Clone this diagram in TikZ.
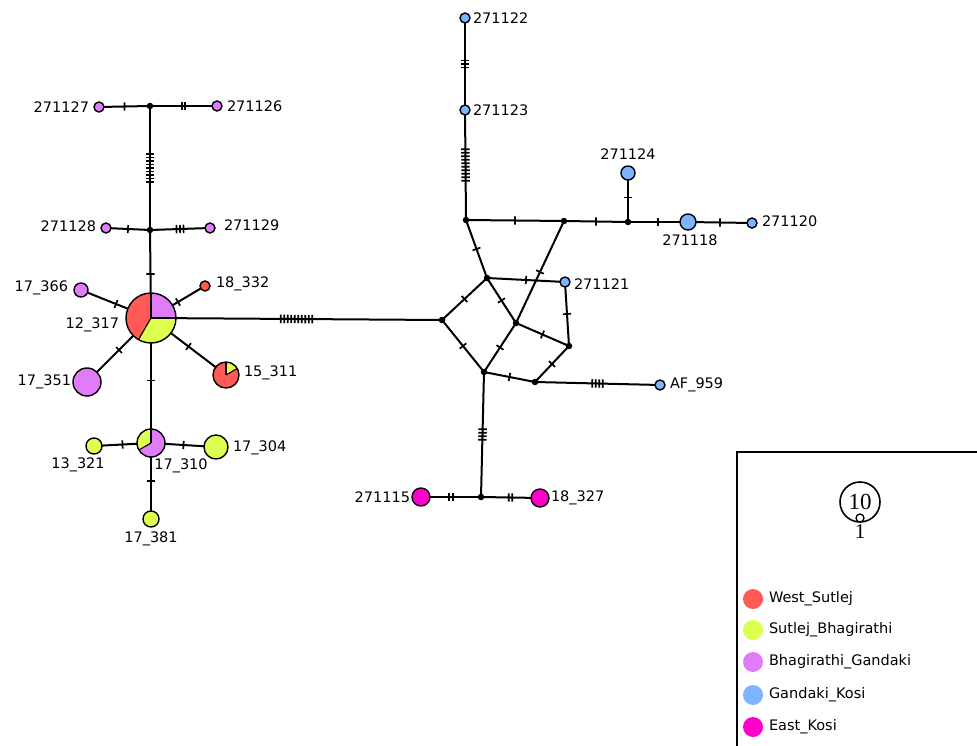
\documentclass[tikz,border=0pt]{standalone}
\usepackage{fontspec}
\setmainfont{DejaVu Sans}
\newfontfamily\scalefont{Liberation Serif}
\usetikzlibrary{positioning,decorations.markings,backgrounds}
\definecolor{westsutlej}{HTML}{FF5A55}
\definecolor{sutlejbhag}{HTML}{DDFF50}
\definecolor{bhaggandaki}{HTML}{E07CF8}
\definecolor{gandakikosi}{HTML}{7FB2FF}
\definecolor{eastkosi}{HTML}{FF00CC}
\newcommand{\hapslice}[3]{%
  \fill[#1] (path picture bounding box.center) -- ++(#2:40pt)
    arc[start angle=#2, end angle=#3, radius=40pt] -- cycle;}
\newcommand{\hapcuts}[1]{%
  \foreach \a in {#1}{\draw[line width=1.1pt] (path picture bounding box.center) -- ++(\a:40pt);}}

\begin{document}
\begin{tikzpicture}[
    x=1pt, y=-1pt,
    every node/.style={inner sep=0pt, outer sep=0pt},
    hap/.style={circle, draw=black, line width=1.4pt, minimum size=#1},
    hap/.default=10pt,
    vtx/.style={circle, fill=black, minimum size=6.5pt},
    txt/.style={font=\fontsize{14.5}{16}\selectfont, inner sep=1pt},
    legdot/.style={circle, minimum size=20pt},
    link/.style={line width=2pt},
    hatch/.style={postaction={decorate, decoration={markings,
        mark=at position 0.5 with {\foreach \k in {1,...,#1}{
          \draw[line width=1.7pt] ({(\k-(#1+1)/2)*3.5pt},-4.2pt) -- ({(\k-(#1+1)/2)*3.5pt},4.2pt);}}}}}
  ]
  \useasboundingbox (0,0) rectangle (977,746);

  \node[vtx] (j1) at (150,106) {};
  \node[vtx] (j2) at (150,230) {};
  \node[hap, fill=bhaggandaki] (h271127) at (99,107) {};
  \node[hap, fill=bhaggandaki] (h271126) at (217,106) {};
  \node[hap, fill=bhaggandaki] (h271128) at (106,228) {};
  \node[hap, fill=bhaggandaki] (h271129) at (210,228) {};
  \node[hap=50pt, path picture={\hapslice{bhaggandaki}{0}{90}\hapslice{westsutlej}{90}{240}%
      \hapslice{sutlejbhag}{240}{360}\hapcuts{0,90,240}}] (h12317) at (151,318) {};
  \node[hap=14pt, fill=bhaggandaki] (h17366) at (81,290) {};
  \node[hap, fill=westsutlej] (h18332) at (205,286) {};
  \node[hap=28pt, fill=bhaggandaki] (h17351) at (87,382) {};
  \node[hap=26pt, path picture={\hapslice{sutlejbhag}{30}{90}\hapslice{westsutlej}{90}{390}%
      \hapcuts{30,90}}] (h15311) at (226,375) {};
  \node[hap=28pt, path picture={\hapslice{sutlejbhag}{90}{210}\hapslice{bhaggandaki}{210}{450}%
      \hapcuts{90,210}}] (h17310) at (151,443) {};
  \node[hap=16pt, fill=sutlejbhag] (h13321) at (94,446) {};
  \node[hap=24pt, fill=sutlejbhag] (h17304) at (216,447) {};
  \node[hap=16pt, fill=sutlejbhag] (h17381) at (151,519) {};

  \node[vtx] (p) at (442,320) {};
  \node[vtx] (a) at (487,278) {};
  \node[vtx] (b) at (516,323) {};
  \node[vtx] (c) at (484,372) {};
  \node[vtx] (d) at (535,382) {};
  \node[vtx] (e) at (569,346) {};
  \node[vtx] (f) at (466,220) {};
  \node[vtx] (g) at (564,221) {};
  \node[vtx] (h) at (628,222) {};
  \node[vtx] (k) at (481,497) {};
  \node[hap, fill=gandakikosi] (h271122) at (465,18) {};
  \node[hap, fill=gandakikosi] (h271123) at (465,110) {};
  \node[hap=14pt, fill=gandakikosi] (h271124) at (628,173) {};
  \node[hap=16pt, fill=gandakikosi] (h271118) at (688,222) {};
  \node[hap, fill=gandakikosi] (h271120) at (752,223) {};
  \node[hap, fill=gandakikosi] (h271121) at (565,282) {};
  \node[hap, fill=gandakikosi] (haf959) at (660,385) {};
  \node[hap=18pt, fill=eastkosi] (h271115) at (421,497) {};
  \node[hap=18pt, fill=eastkosi] (h18327) at (540,498) {};

  \node[txt, left=4pt of h271127] (t271127) {271127};
  \node[txt, right=4pt of h271126] (t271126) {271126};
  \node[txt, left=4pt of h271128, yshift=2pt] (t271128) {271128};
  \node[txt, right=8pt of h271129, yshift=3pt] (t271129) {271129};
  \node[txt, left=6pt of h12317, yshift=-7pt] (t12317) {12\_317};
  \node[txt, left=5pt of h17366, yshift=2pt] (t17366) {17\_366};
  \node[txt, right=5pt of h18332, yshift=2pt] (t18332) {18\_332};
  \node[txt, left=1pt of h17351] (t17351) {17\_351};
  \node[txt, right=4pt of h15311, yshift=2pt] (t15311) {15\_311};
  \node[txt, below=1pt of h17310, xshift=30pt] (t17310) {17\_310};
  \node[txt, below=3pt of h13321, xshift=-16pt] (t13321) {13\_321};
  \node[txt, right=4pt of h17304, yshift=-1pt] (t17304) {17\_304};
  \node[txt, below=4pt of h17381] (t17381) {17\_381};
  \node[txt, right=2pt of h271122] (t271122) {271122};
  \node[txt, right=2pt of h271123] (t271123) {271123};
  \node[txt, above=5pt of h271124] (t271124) {271124};
  \node[txt, below=4pt of h271118, xshift=2pt] (t271118) {271118};
  \node[txt, right=4pt of h271120, yshift=2pt] (t271120) {271120};
  \node[txt, right=3pt of h271121, yshift=-2pt] (t271121) {271121};
  \node[txt, right=4pt of haf959] (taf959) {AF\_959};
  \node[txt, left=1pt of h271115] (t271115) {271115};
  \node[txt, right=1pt of h18327] (t18327) {18\_327};

  \begin{pgfonlayer}{background}
  \draw[link, hatch=1] (h271127.center) -- (j1.center);
  \draw[link, hatch=2] (j1.center) -- (h271126.center);
  \draw[link, hatch=9] (j1.center) -- (j2.center);
  \draw[link, hatch=1] (h271128.center) -- (j2.center);
  \draw[link, hatch=3] (j2.center) -- (h271129.center);
  \draw[link, hatch=1] (j2.center) -- (h12317.center);
  \draw[link, hatch=1] (h12317.center) -- (h17366.center);
  \draw[link, hatch=1] (h12317.center) -- (h18332.center);
  \draw[link, hatch=1] (h12317.center) -- (h17351.center);
  \draw[link, hatch=1] (h12317.center) -- (h15311.center);
  \draw[link, hatch=1] (h12317.center) -- (h17310.center);
  \draw[link, hatch=1] (h17310.center) -- (h13321.center);
  \draw[link, hatch=1] (h17310.center) -- (h17304.center);
  \draw[link, hatch=1] (h17310.center) -- (h17381.center);
  \draw[link, hatch=10] (h12317.center) -- (p.center);
  \draw[link, hatch=1] (p.center) -- (a.center);
  \draw[link, hatch=1] (p.center) -- (c.center);
  \draw[link, hatch=1] (a.center) -- (b.center);
  \draw[link, hatch=1] (b.center) -- (c.center);
  \draw[link, hatch=1] (b.center) -- (e.center);
  \draw[link, hatch=1] (c.center) -- (d.center);
  \draw[link, hatch=1] (e.center) -- (d.center);
  \draw[link, hatch=1] (f.center) -- (a.center);
  \draw[link, hatch=1] (g.center) -- (b.center);
  \draw[link, hatch=1] (a.center) -- (h271121.center);
  \draw[link, hatch=1] (h271121.center) -- (e.center);
  \draw[link, hatch=1] (f.center) -- (g.center);
  \draw[link, hatch=1] (g.center) -- (h.center);
  \draw[link, hatch=1] (h.center) -- (h271118.center);
  \draw[link, hatch=1] (h271118.center) -- (h271120.center);
  \draw[link, hatch=1] (h.center) -- (h271124.center);
  \draw[link, hatch=10] (f.center) -- (h271123.center);
  \draw[link, hatch=3] (h271123.center) -- (h271122.center);
  \draw[link, hatch=4] (d.center) -- (haf959.center);
  \draw[link, hatch=4] (c.center) -- (k.center);
  \draw[link, hatch=2] (h271115.center) -- (k.center);
  \draw[link, hatch=2] (k.center) -- (h18327.center);
  \end{pgfonlayer}

  \draw[line width=2.5pt] (737,746) |- (977,452);
  \node[circle, draw, line width=1.6pt, minimum size=40pt,
        font=\scalefont\fontsize{23}{23}\selectfont] (sc10) at (860,502) {10};
  \node[circle, draw, fill=white, line width=1.3pt, minimum size=8pt] (sc1) at (860,518) {};
  \node[font=\scalefont\fontsize{21}{21}\selectfont] (sc1t) [below=3pt of sc1] {1};

  \node[legdot, fill=westsutlej] (lg1) at (753,599) {};
  \node[legdot, fill=sutlejbhag] (lg2) at (753,630) {};
  \node[legdot, fill=bhaggandaki] (lg3) at (753,662) {};
  \node[legdot, fill=gandakikosi] (lg4) at (753,695) {};
  \node[legdot, fill=eastkosi] (lg5) at (753,727) {};
  \node[txt, right=5pt of lg1] (lg1t) {West\_Sutlej};
  \node[txt, right=5pt of lg2] (lg2t) {Sutlej\_Bhagirathi};
  \node[txt, right=5pt of lg3] (lg3t) {Bhagirathi\_Gandaki};
  \node[txt, right=5pt of lg4] (lg4t) {Gandaki\_Kosi};
  \node[txt, right=5pt of lg5] (lg5t) {East\_Kosi};
\end{tikzpicture}
\end{document}
